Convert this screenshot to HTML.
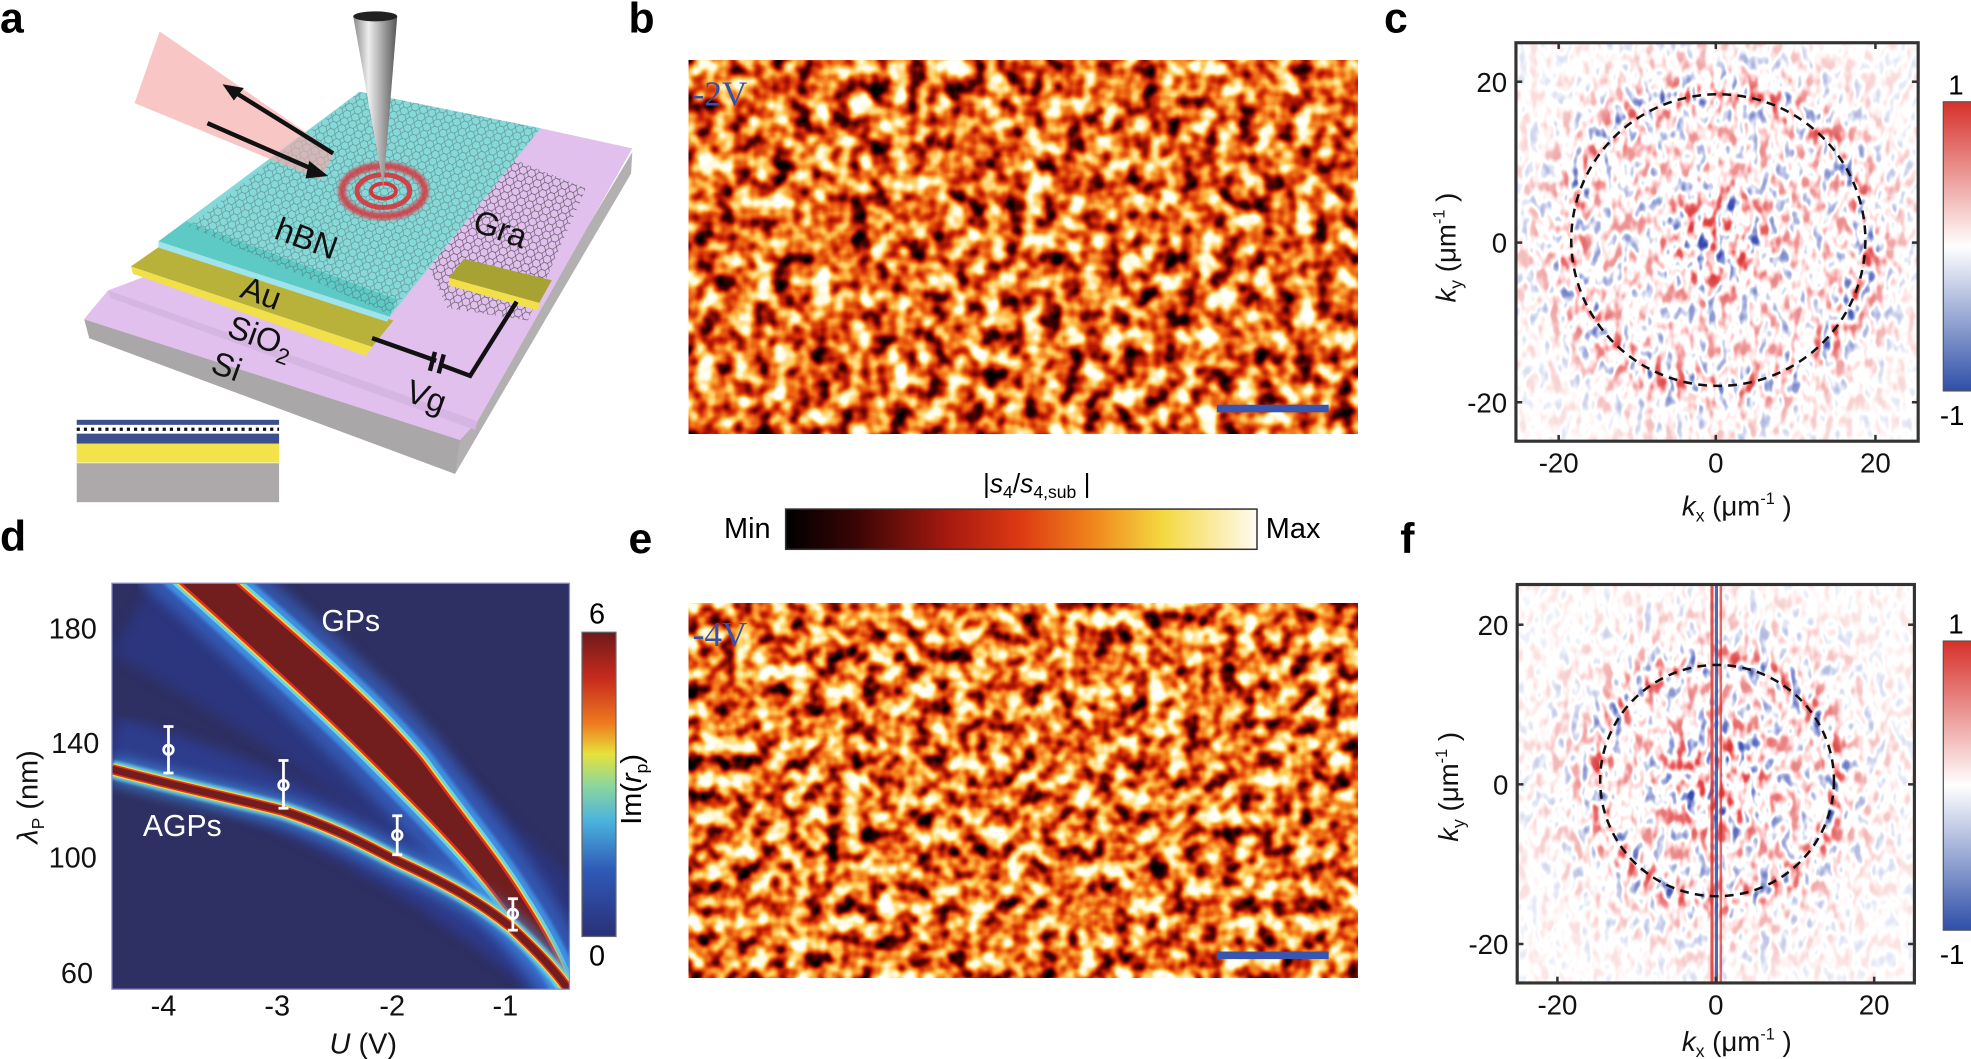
<!DOCTYPE html>
<html><head><meta charset="utf-8"><style>
html,body{margin:0;padding:0;background:#fff;}
svg{display:block;font-family:"Liberation Sans",sans-serif;}
</style></head><body>
<svg width="1971" height="1059" viewBox="0 0 1568 842.5" xmlns="http://www.w3.org/2000/svg">
<defs>
<filter id="hot" x="0" y="0" width="1" height="1" filterUnits="objectBoundingBox" primitiveUnits="userSpaceOnUse" color-interpolation-filters="sRGB">
<feTurbulence type="fractalNoise" baseFrequency="0.065" numOctaves="2" seed="3"/>
<feColorMatrix type="matrix" values="1 0 0 0 0 1 0 0 0 0 1 0 0 0 0 0 0 0 0 1"/>
<feComponentTransfer>
<feFuncR type="table" tableValues="0 0 0.02 0.33 0.78 0.94 1 1 1 1 1"/>
<feFuncG type="table" tableValues="0 0 0 0.01 0.12 0.42 0.78 0.98 1 1 1"/>
<feFuncB type="table" tableValues="0 0 0 0 0.02 0.08 0.32 0.85 1 1 1"/>
<feFuncA type="table" tableValues="1 1"/>
</feComponentTransfer>
</filter>
<filter id="hot2" x="0" y="0" width="1" height="1" filterUnits="objectBoundingBox" primitiveUnits="userSpaceOnUse" color-interpolation-filters="sRGB">
<feTurbulence type="fractalNoise" baseFrequency="0.07" numOctaves="2" seed="11"/>
<feColorMatrix type="matrix" values="1 0 0 0 0 1 0 0 0 0 1 0 0 0 0 0 0 0 0 1"/>
<feComponentTransfer>
<feFuncR type="table" tableValues="0 0 0.04 0.4 0.82 0.95 1 1 1 1 1"/>
<feFuncG type="table" tableValues="0 0 0 0.02 0.15 0.47 0.8 0.98 1 1 1"/>
<feFuncB type="table" tableValues="0 0 0 0 0.02 0.1 0.33 0.85 1 1 1"/>
<feFuncA type="table" tableValues="1 1"/>
</feComponentTransfer>
</filter>
<filter id="rb" x="0" y="0" width="1" height="1" filterUnits="objectBoundingBox" primitiveUnits="userSpaceOnUse" color-interpolation-filters="sRGB">
<feTurbulence type="fractalNoise" baseFrequency="0.12 0.07" numOctaves="2" seed="5"/>
<feColorMatrix type="matrix" values="1 0 0 0 0 1 0 0 0 0 1 0 0 0 0 0 0 0 0 1"/>
<feComponentTransfer>
<feFuncR type="table" tableValues="0.18 0.18 0.2 0.55 1 1 1 0.9 0.84 0.84 0.84"/>
<feFuncG type="table" tableValues="0.25 0.25 0.28 0.6 1 1 0.7 0.3 0.18 0.18 0.18"/>
<feFuncB type="table" tableValues="0.66 0.66 0.68 0.85 1 1 0.7 0.3 0.18 0.18 0.18"/>
<feFuncA type="table" tableValues="1 1"/>
</feComponentTransfer>
</filter>
<radialGradient id="ringC" cx="0.5" cy="0.5" r="0.5">
<stop offset="0" stop-color="#fff" stop-opacity="1"/>
<stop offset="0.12" stop-color="#fff" stop-opacity="0.95"/>
<stop offset="0.25" stop-color="#fff" stop-opacity="0.55"/>
<stop offset="0.44" stop-color="#fff" stop-opacity="0.55"/>
<stop offset="0.51" stop-color="#fff" stop-opacity="0.95"/>
<stop offset="0.6" stop-color="#fff" stop-opacity="0.45"/>
<stop offset="0.75" stop-color="#fff" stop-opacity="0.2"/>
<stop offset="1" stop-color="#fff" stop-opacity="0.12"/>
</radialGradient>
<radialGradient id="ringF" cx="0.5" cy="0.5" r="0.5">
<stop offset="0" stop-color="#fff" stop-opacity="1"/>
<stop offset="0.13" stop-color="#fff" stop-opacity="0.95"/>
<stop offset="0.25" stop-color="#fff" stop-opacity="0.6"/>
<stop offset="0.35" stop-color="#fff" stop-opacity="0.55"/>
<stop offset="0.41" stop-color="#fff" stop-opacity="0.95"/>
<stop offset="0.5" stop-color="#fff" stop-opacity="0.4"/>
<stop offset="0.7" stop-color="#fff" stop-opacity="0.16"/>
<stop offset="1" stop-color="#fff" stop-opacity="0.1"/>
</radialGradient>
<mask id="mC" maskUnits="userSpaceOnUse" x="1206" y="34" width="320" height="317"><rect x="1206" y="34" width="320" height="317" fill="#000"/><ellipse cx="1367" cy="191" rx="230" ry="230" fill="url(#ringC)"/></mask>
<mask id="mF" maskUnits="userSpaceOnUse" x="1207" y="465" width="316" height="317"><rect x="1207" y="465" width="316" height="317" fill="#000"/><ellipse cx="1366" cy="621" rx="230" ry="230" fill="url(#ringF)"/></mask>
<linearGradient id="hotbar" x1="0" x2="1" y1="0" y2="0">
<stop offset="0" stop-color="#000"/><stop offset="0.15" stop-color="#3a0505"/><stop offset="0.35" stop-color="#a81a10"/><stop offset="0.5" stop-color="#dd3a12"/><stop offset="0.65" stop-color="#f0851c"/><stop offset="0.8" stop-color="#f4d840"/><stop offset="1" stop-color="#fffbf0"/>
</linearGradient>
<linearGradient id="rbbar" x1="0" x2="0" y1="0" y2="1">
<stop offset="0" stop-color="#d7302a"/><stop offset="0.5" stop-color="#ffffff"/><stop offset="1" stop-color="#2f4fa8"/>
</linearGradient>
<linearGradient id="jet" x1="0" x2="0" y1="0" y2="1">
<stop offset="0" stop-color="#6e1a1a"/><stop offset="0.15" stop-color="#c62a1e"/><stop offset="0.3" stop-color="#ef7a1f"/><stop offset="0.4" stop-color="#e6e23a"/><stop offset="0.5" stop-color="#8fd79a"/><stop offset="0.62" stop-color="#4bb3de"/><stop offset="0.78" stop-color="#2f5bb8"/><stop offset="1" stop-color="#2a2f78"/>
</linearGradient>
<linearGradient id="tip" x1="0" x2="1"><stop offset="0" stop-color="#888"/><stop offset="0.35" stop-color="#eee"/><stop offset="1" stop-color="#555"/></linearGradient>
<filter id="blur3"><feGaussianBlur stdDeviation="5"/></filter>
<filter id="blur1"><feGaussianBlur stdDeviation="1.2"/></filter>
<pattern id="hex" width="7" height="6" patternUnits="userSpaceOnUse" patternTransform="rotate(20)">
<path d="M0 3 L2 0 L5 0 L7 3 L5 6 L2 6 Z" fill="none" stroke="#333" stroke-width="0.5"/>
</pattern>
<clipPath id="clipD"><rect x="89" y="464" width="364" height="323"/></clipPath>
<path id="gp" d="M141 462 C200 515 255 565 296 606 C335 645 370 680 397 716 C420 745 438 768 449 790 L455 790 C448 770 436 745 417 716 C395 680 365 645 337 606 C300 560 240 510 186 462 Z"/>
</defs>

<g font-weight="bold" font-size="34" fill="#000">
<text x="0" y="26">a</text><text x="500" y="26">b</text><text x="1101" y="26">c</text>
<text x="0" y="438">d</text><text x="500" y="440">e</text><text x="1114" y="440">f</text>
</g>

<!-- Panel a -->
<g>
<polygon points="67,254 366,350 503,121 502,138 362,377 71,269" fill="#b3b0b2"/>
<polygon points="67,254 366,350 362,377 71,269" fill="#aaa7a9"/>
<polygon points="86,231 430,102 503,118 380,335 366,350 67,254 70,250" fill="#e2c0ee"/>
<polygon points="86,231 380,335 378,342 88,237" fill="#d5b5e2"/>
<polygon points="340,210 392,120 466,150 420,255 356,245" fill="url(#hex)" opacity="0.8"/>
<polygon points="104,212 127,196 313,255 296,276" fill="#b9b23a"/>
<polygon points="104,212 296,276 291,283 106,218" fill="#f1e04a"/>
<polygon points="357,221 369,206 439,223 429,241" fill="#a8a232"/>
<polygon points="357,221 429,241 428,247 357,227" fill="#f1e04a"/>
<polygon points="126,192 286,73 430,102 310,252" fill="#86d9d9"/>
<polygon points="126,192 148,176 315,238 310,252" fill="#5ecac6"/>
<polygon points="126,192 310,252 308,256 126,197" fill="#9ee4ea"/>
<polygon points="150,180 286,73 430,102 310,250" fill="url(#hex)" opacity="0.45"/>
<polygon points="107,82 127,25 266,121 255,143" fill="#f6a8a8" opacity="0.65"/>
<line x1="265" y1="122" x2="183" y2="71" stroke="#111" stroke-width="3.5"/>
<polygon points="177,67 194,70 186,80" fill="#111"/>
<line x1="165" y1="98" x2="252" y2="136" stroke="#111" stroke-width="3.5"/>
<polygon points="261,140 246,128 243,142" fill="#111"/>
<ellipse cx="305" cy="152" rx="33" ry="20" fill="none" stroke="#d8343c" stroke-width="6" opacity="0.85" filter="url(#blur1)"/>
<ellipse cx="305" cy="152" rx="21" ry="13" fill="none" stroke="#d8343c" stroke-width="4" opacity="0.9"/>
<ellipse cx="305" cy="152" rx="10" ry="6" fill="none" stroke="#d8343c" stroke-width="3"/>
<polygon points="281,13 316,13 305,149" fill="url(#tip)"/>
<ellipse cx="298.5" cy="13" rx="17.5" ry="4" fill="#222"/>
<polyline points="296,269 347,287" stroke="#111" stroke-width="3.5" fill="none"/>
<line x1="346" y1="280" x2="342" y2="295" stroke="#111" stroke-width="3.5"/>
<line x1="353" y1="282" x2="349" y2="297" stroke="#111" stroke-width="3.5"/>
<polyline points="350,290 374,299 411,240" stroke="#111" stroke-width="3.5" fill="none"/>
<g font-size="26" fill="#111">
<text x="218" y="198" transform="rotate(20 242 191)">hBN</text>
<text x="376" y="190" transform="rotate(20 395 183)">Gra</text>
<text x="192" y="242" transform="rotate(20 208 233)">Au</text>
<text x="180" y="276" transform="rotate(20 205 270)">SiO<tspan font-size="18" dy="6">2</tspan></text>
<text x="168" y="301" transform="rotate(20 182 294)">Si</text>
<text x="323" y="324" transform="rotate(20 338 316)">Vg</text>
</g>
<rect x="61" y="334" width="161" height="4" fill="#3e4f8e"/>
<line x1="61" y1="341.5" x2="222" y2="341.5" stroke="#111" stroke-width="2.5" stroke-dasharray="2.5 3.2"/>
<rect x="61" y="345" width="161" height="8" fill="#3e4f8e"/>
<rect x="61" y="353" width="161" height="15" fill="#f2e34a"/>
<rect x="61" y="368.5" width="161" height="31" fill="#ada9aa"/>
</g>

<!-- Panel b -->
<rect x="548" y="48" width="532" height="297" filter="url(#hot)"/>
<text x="551" y="84" font-family="Liberation Serif,serif" font-size="28" fill="#3a4fa8">-2V</text>
<rect x="968" y="322" width="89" height="6" fill="#3a55b0"/>

<!-- Panel e -->
<rect x="548" y="480" width="532" height="298" filter="url(#hot2)"/>
<text x="551" y="514" font-family="Liberation Serif,serif" font-size="28" fill="#3a4fa8">-4V</text>
<rect x="968" y="757" width="89" height="6" fill="#3a55b0"/>

<rect x="625" y="405" width="375" height="32" fill="url(#hotbar)" stroke="#333" stroke-width="1.2"/>
<text x="576" y="428" font-size="23">Min</text>
<text x="1007" y="428" font-size="23">Max</text>
<text x="782" y="392" font-size="21">|<tspan font-style="italic">s</tspan><tspan font-size="14" dy="4">4</tspan><tspan dy="-4">/</tspan><tspan font-style="italic">s</tspan><tspan font-size="14" dy="4">4,sub</tspan><tspan dy="-4"> |</tspan></text>

<!-- Panel c -->
<rect x="1206" y="34" width="320" height="317" fill="#fff"/>
<rect x="1206" y="34" width="320" height="317" filter="url(#rb)" mask="url(#mC)"/>
<ellipse cx="1367" cy="191" rx="117" ry="116" fill="none" stroke="#111" stroke-width="2" stroke-dasharray="7 5"/>
<rect x="1206" y="34" width="320" height="317" fill="none" stroke="#333" stroke-width="2.5"/>
<g stroke="#333" stroke-width="2">
<line x1="1206" y1="65" x2="1211" y2="65"/><line x1="1206" y1="193" x2="1211" y2="193"/><line x1="1206" y1="320" x2="1211" y2="320"/>
<line x1="1521" y1="65" x2="1526" y2="65"/><line x1="1521" y1="193" x2="1526" y2="193"/><line x1="1521" y1="320" x2="1526" y2="320"/>
<line x1="1240" y1="351" x2="1240" y2="346"/><line x1="1365" y1="351" x2="1365" y2="346"/><line x1="1492" y1="351" x2="1492" y2="346"/>
<line x1="1240" y1="34" x2="1240" y2="39"/><line x1="1365" y1="34" x2="1365" y2="39"/><line x1="1492" y1="34" x2="1492" y2="39"/>
</g>
<g font-size="22" fill="#111">
<text x="1199" y="73" text-anchor="end">20</text><text x="1199" y="201" text-anchor="end">0</text><text x="1199" y="328" text-anchor="end">-20</text>
<text x="1240" y="376" text-anchor="middle">-20</text><text x="1365" y="376" text-anchor="middle">0</text><text x="1492" y="376" text-anchor="middle">20</text>
<text x="1338" y="410"><tspan font-style="italic">k</tspan><tspan font-size="14" dy="5">x</tspan><tspan dy="-5"> (μm</tspan><tspan font-size="13" dy="-9">-1</tspan><tspan dy="9"> )</tspan></text>
<text transform="translate(1158 197) rotate(-90)" text-anchor="middle"><tspan font-style="italic">k</tspan><tspan font-size="14" dy="5">y</tspan><tspan dy="-5"> (μm</tspan><tspan font-size="13" dy="-9">-1</tspan><tspan dy="9"> )</tspan></text>
</g>
<rect x="1546" y="81" width="24" height="230" fill="url(#rbbar)" stroke="#555" stroke-width="1"/>
<text x="1556" y="75" font-size="22" text-anchor="middle">1</text>
<text x="1553" y="338" font-size="22" text-anchor="middle">-1</text>

<!-- Panel f -->
<rect x="1207" y="465" width="316" height="317" fill="#fff"/>
<rect x="1207" y="465" width="316" height="317" filter="url(#rb)" mask="url(#mF)"/>
<line x1="1362" y1="465" x2="1362" y2="782" stroke="#d7302a" stroke-width="2.5" opacity="0.8"/>
<line x1="1365.5" y1="465" x2="1365.5" y2="782" stroke="#2f4fa8" stroke-width="2.5" opacity="0.85"/>
<line x1="1369" y1="465" x2="1369" y2="782" stroke="#d7302a" stroke-width="2" opacity="0.7"/>
<ellipse cx="1366" cy="621" rx="93" ry="92" fill="none" stroke="#111" stroke-width="2" stroke-dasharray="7 5"/>
<rect x="1207" y="465" width="316" height="317" fill="none" stroke="#333" stroke-width="2.5"/>
<g stroke="#333" stroke-width="2">
<line x1="1207" y1="497" x2="1212" y2="497"/><line x1="1207" y1="624" x2="1212" y2="624"/><line x1="1207" y1="751" x2="1212" y2="751"/>
<line x1="1518" y1="497" x2="1523" y2="497"/><line x1="1518" y1="624" x2="1523" y2="624"/><line x1="1518" y1="751" x2="1523" y2="751"/>
<line x1="1239" y1="782" x2="1239" y2="777"/><line x1="1365" y1="782" x2="1365" y2="777"/><line x1="1491" y1="782" x2="1491" y2="777"/>
</g>
<g font-size="22" fill="#111">
<text x="1200" y="505" text-anchor="end">20</text><text x="1200" y="632" text-anchor="end">0</text><text x="1200" y="759" text-anchor="end">-20</text>
<text x="1239" y="807" text-anchor="middle">-20</text><text x="1365" y="807" text-anchor="middle">0</text><text x="1491" y="807" text-anchor="middle">20</text>
<text x="1338" y="836"><tspan font-style="italic">k</tspan><tspan font-size="14" dy="5">x</tspan><tspan dy="-5"> (μm</tspan><tspan font-size="13" dy="-9">-1</tspan><tspan dy="9"> )</tspan></text>
<text transform="translate(1160 626) rotate(-90)" text-anchor="middle"><tspan font-style="italic">k</tspan><tspan font-size="14" dy="5">y</tspan><tspan dy="-5"> (μm</tspan><tspan font-size="13" dy="-9">-1</tspan><tspan dy="9"> )</tspan></text>
</g>
<rect x="1546" y="510" width="24" height="230" fill="url(#rbbar)" stroke="#555" stroke-width="1"/>
<text x="1556" y="504" font-size="22" text-anchor="middle">1</text>
<text x="1553" y="767" font-size="22" text-anchor="middle">-1</text>

<!-- Panel d -->
<g clip-path="url(#clipD)">
<rect x="89" y="464" width="364" height="323" fill="#2e2f62"/>
<path d="M89 520 C160 560 300 640 453 787 L453 700 C380 620 250 520 200 464 L120 464 Z" fill="#2c3d9a" opacity="0.5" filter="url(#blur3)"/>
<path d="M89 590 C200 620 330 680 453 787" stroke="#2f47b0" stroke-width="40" fill="none" opacity="0.55" filter="url(#blur3)"/>
<use href="#gp" fill="none" stroke="#3a6fd6" stroke-width="40" opacity="0.6" filter="url(#blur3)"/>
<use href="#gp" fill="none" stroke="#3f8fe0" stroke-width="18" filter="url(#blur1)"/>
<use href="#gp" fill="none" stroke="#6fd3e0" stroke-width="9"/>
<use href="#gp" fill="none" stroke="#ecd840" stroke-width="4.5"/>
<use href="#gp" fill="#731e1e" stroke="#e03020" stroke-width="2"/>
<path d="M89 612 C150 628 190 636 225 645 C270 660 290 672 316 685 C360 705 385 720 407 738 C425 755 440 770 452 787" stroke="#3f8fe0" stroke-width="22" fill="none" opacity="0.7" filter="url(#blur3)"/>
<path d="M89 612 C150 628 190 636 225 645 C270 660 290 672 316 685 C360 705 385 720 407 738 C425 755 440 770 452 787" stroke="#6fd3e0" stroke-width="14" fill="none" filter="url(#blur1)"/>
<path d="M89 612 C150 628 190 636 225 645 C270 660 290 672 316 685 C360 705 385 720 407 738 C425 755 440 770 452 787" stroke="#ecd840" stroke-width="10" fill="none"/>
<path d="M89 612 C150 628 190 636 225 645 C270 660 290 672 316 685 C360 705 385 720 407 738 C425 755 440 770 452 787" stroke="#e03020" stroke-width="8" fill="none"/>
<path d="M89 612 C150 628 190 636 225 645 C270 660 290 672 316 685 C360 705 385 720 407 738 C425 755 440 770 452 787" stroke="#731e1e" stroke-width="5.5" fill="none"/>
</g>
<rect x="89" y="464" width="364" height="323" fill="none" stroke="#8a8fcf" stroke-width="1"/>
<g stroke="#fff" stroke-width="2.2" fill="none">
<line x1="134" y1="578" x2="134" y2="615"/><line x1="130" y1="578" x2="138" y2="578"/><line x1="130" y1="615" x2="138" y2="615"/><circle cx="134" cy="596.5" r="3.8"/>
<line x1="225.5" y1="605" x2="225.5" y2="643"/><line x1="221.5" y1="605" x2="229.5" y2="605"/><line x1="221.5" y1="643" x2="229.5" y2="643"/><circle cx="225.5" cy="624.5" r="3.8"/>
<line x1="316" y1="649" x2="316" y2="680"/><line x1="312" y1="649" x2="320" y2="649"/><line x1="312" y1="680" x2="320" y2="680"/><circle cx="316" cy="664.4" r="3.8"/>
<line x1="408" y1="715" x2="408" y2="740"/><line x1="404" y1="715" x2="412" y2="715"/><line x1="404" y1="740" x2="412" y2="740"/><circle cx="408" cy="727" r="3.8"/>
</g>
<text x="279" y="502" font-size="24" fill="#fff" text-anchor="middle">GPs</text>
<text x="145" y="665" font-size="24" fill="#fff" text-anchor="middle">AGPs</text>
<g font-size="23" fill="#111">
<text x="77" y="508" text-anchor="end">180</text><text x="79" y="599" text-anchor="end">140</text>
<text x="77" y="690" text-anchor="end">100</text><text x="74" y="782" text-anchor="end">60</text>
<text x="130" y="808" text-anchor="middle">-4</text><text x="220.5" y="808" text-anchor="middle">-3</text>
<text x="312" y="808" text-anchor="middle">-2</text><text x="402" y="808" text-anchor="middle">-1</text>
<text x="289" y="838" text-anchor="middle"><tspan font-style="italic">U</tspan> (V)</text>
<text transform="translate(30 634) rotate(-90)" text-anchor="middle"><tspan font-style="italic">λ</tspan><tspan font-size="14" dy="5">P</tspan><tspan dy="-5"> (nm)</tspan></text>
</g>
<rect x="463" y="503" width="27" height="242" fill="url(#jet)" stroke="#666" stroke-width="1"/>
<text x="475" y="496" font-size="23" text-anchor="middle">6</text>
<text x="475" y="768" font-size="23" text-anchor="middle">0</text>
<text transform="translate(510 628) rotate(-90)" font-size="23" text-anchor="middle">Im(<tspan font-style="italic">r</tspan><tspan font-size="14" dy="5">p</tspan><tspan dy="-5">)</tspan></text>
</svg>
</body></html>
